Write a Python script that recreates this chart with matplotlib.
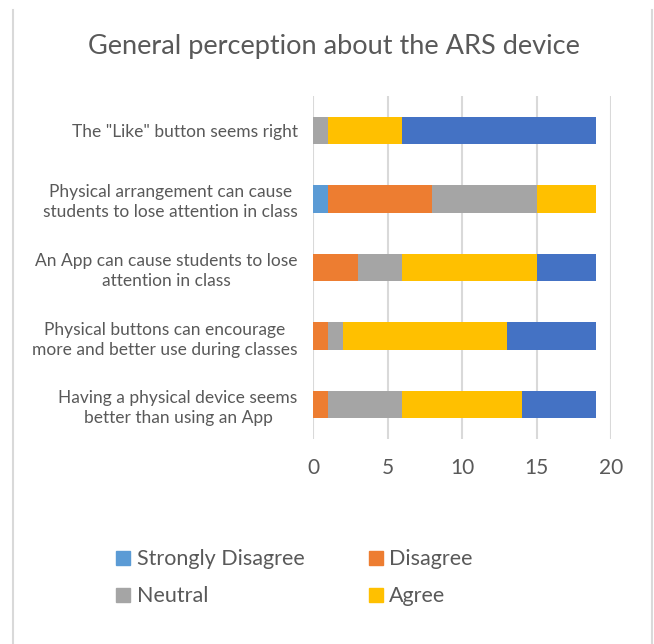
import numpy as np
import matplotlib.pyplot as plt
from matplotlib.lines import Line2D
from matplotlib.patches import Patch

plt.rcParams['font.family'] = ['Lato', 'DejaVu Sans']

# questions, bottom to top
questions = [
    "Having a physical device seems\nbetter than using an App",
    "Physical buttons can encourage\nmore and better use during classes",
    "An App can cause students to lose\nattention in class",
    "Physical arrangement can cause\nstudents to lose attention in class",
    "The \"Like\" button seems right",
]
strongly_disagree = [0, 0, 0, 1, 0]
disagree = [1, 1, 3, 7, 0]
neutral = [5, 1, 3, 7, 1]
agree = [8, 11, 9, 4, 5]
strongly_agree = [5, 6, 4, 0, 13]

series_names = ["Strongly Disagree", "Disagree", "Neutral", "Agree", "Strongly Agree"]
series = [strongly_disagree, disagree, neutral, agree, strongly_agree]
colors = ["#5B9BD5", "#ED7D31", "#A5A5A5", "#FFC000", "#4472C4"]

txt = "#595959"

fig = plt.figure(figsize=(6.54, 6.44), dpi=100)
ax = fig.add_axes([0.4786, 0.3183, 0.4557, 0.5326])

y = np.arange(len(questions))
left = np.zeros(len(questions))
for name, vals, c in zip(series_names, series, colors):
    vals = np.array(vals, dtype=float)
    ax.barh(y, vals, left=left, height=0.4, color=c, label=name, zorder=3)
    left += vals

ax.set_xlim(0, 20)
ax.set_ylim(-0.5, 4.5)
ax.set_xticks([0, 5, 10, 15, 20])
ax.set_yticks(y)
ax.set_yticklabels(questions, fontsize=12.5, color=txt, multialignment='center',
                   linespacing=1.3)
ax.tick_params(axis='x', labelsize=15, colors=txt, length=0, pad=14)
ax.tick_params(axis='y', length=0, pad=11)
ax.grid(axis='x', color='#D9D9D9', linewidth=1.5, zorder=0)
for s in ax.spines.values():
    s.set_visible(False)

fig.text(0.51, 0.928, "General perception about the ARS device", ha='center', va='center',
         fontsize=19.5, color=txt)

# legend shows only the first four entries, row by row
order = [0, 2, 1, 3]
handles = [Patch(color=colors[i]) for i in order]
labels = [series_names[i] for i in order]
fig.legend(handles, labels, loc='upper left', bbox_to_anchor=(0.148, 0.177),
           ncol=2, frameon=False, fontsize=15.5, labelcolor=txt,
           handlelength=0.65, handleheight=0.65, handletextpad=0.3,
           columnspacing=3.0, labelspacing=0.79)

# chart frame (left and right edges)
fig.add_artist(Line2D([0.02, 0.02], [0, 0.985], color='#D9D9D9', lw=1.5))
fig.add_artist(Line2D([0.997, 0.997], [0, 0.985], color='#D9D9D9', lw=1.5))

fig.savefig("out.png", dpi=100)
